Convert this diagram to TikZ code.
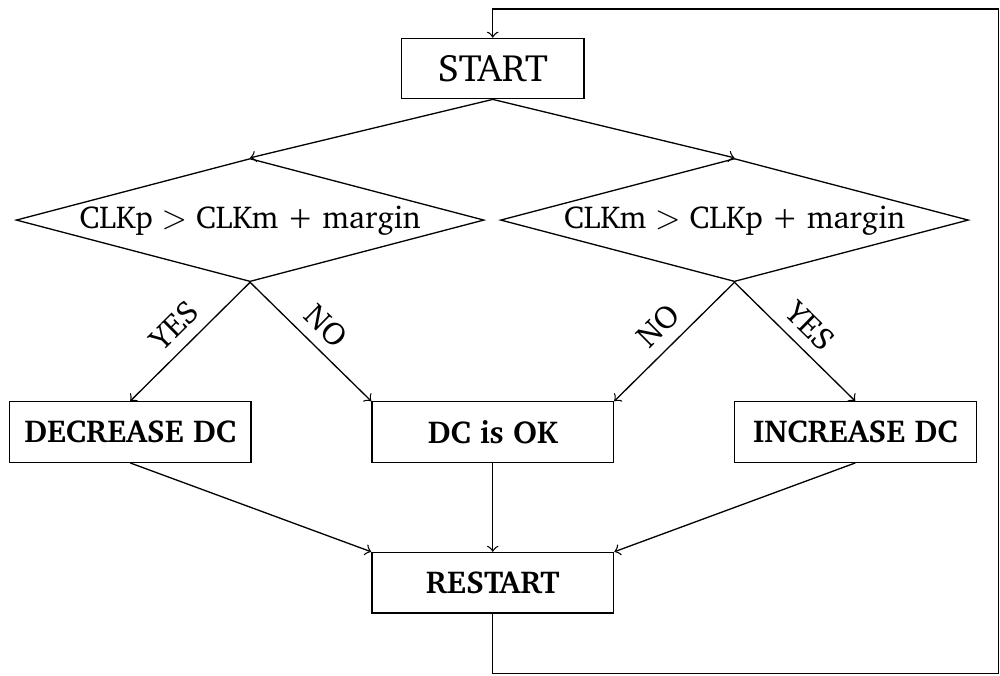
\documentclass[tikz,border=0pt]{standalone}
\usepackage[T1]{fontenc}
\usepackage{charter}
\usepackage{tikz}
\usetikzlibrary{shapes,arrows}
\tikzstyle{decision} = [diamond, draw, shape aspect=3.8, inner sep=0.5pt]
\tikzstyle{block} = [rectangle, draw, text centered, font=\bfseries,
minimum width=2.6cm, minimum height=0.65cm]
\tikzstyle{terminal} = [rectangle, draw, font=\fontsize{11.65}{14}\selectfont,
minimum width=1.96cm, minimum height=0.65cm]
\tikzstyle{line} = [draw, ->]

\begin{document}
\fontsize{9.7}{11.6}\selectfont
\begin{tikzpicture}[node distance = 1.63cm, auto]
\useasboundingbox (-5.30,0.737) rectangle (5.456,-6.526);
% Place nodes
\node [terminal] (start) {START};
\node [decision, below of=start, xshift=-2.61cm] (clkp) {CLKp $>$ CLKm + margin};
\node [decision, below of=start, xshift=2.6cm] (clkm) {CLKm $>$ CLKp + margin};
\node [block, below of=start, node distance=3.91cm] (dcok) {DC is OK};
\node [block, left of=dcok, node distance=3.9cm] (decrease) {DECREASE DC};
\node [block, right of=dcok, node distance=3.9cm] (increase) {INCREASE DC};
\node [block, below of=dcok, node distance=1.62cm] (restart) {RESTART};
% Corners of the loop back to the start
\coordinate [below of=restart, node distance=0.98cm] (loopbottom);
\coordinate [right of=loopbottom, node distance=5.44cm] (loopright);
\coordinate [above of=start, node distance=0.64cm] (looptop);
% Draw edges
\path [line] (start.south) -- (clkp.north);
\path [line] (start.south) -- (clkm.north);
\path [line] (clkp.south) -- node [sloped, above] {YES} (decrease.north);
\path [line] (clkp.south) -- node [sloped, above] {NO} (dcok.north west);
\path [line] (clkm.south) -- node [sloped, above] {NO} (dcok.north east);
\path [line] (clkm.south) -- node [sloped, above] {YES} (increase.north);
\path [line] (decrease.south) -- (restart.north west);
\path [line] (dcok) -- (restart);
\path [line] (increase.south) -- (restart.north east);
\path [line] (restart) -- (loopbottom) -- (loopright) |- (looptop) -- (start);
\end{tikzpicture}
\end{document}
